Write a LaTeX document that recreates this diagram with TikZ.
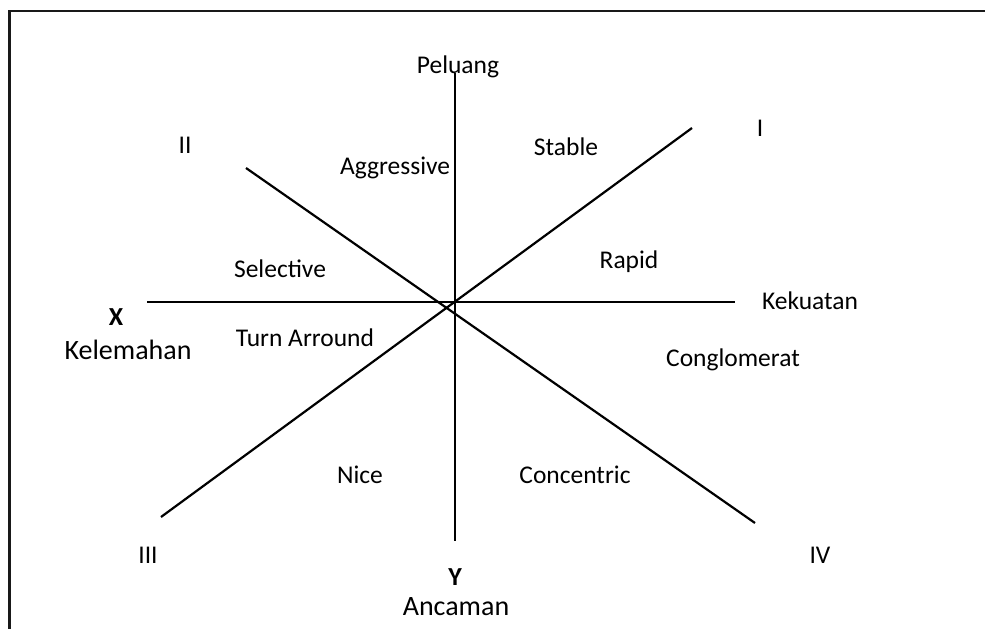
\documentclass[tikz,border=0pt]{standalone}
\usepackage{fontspec}
\setmainfont{Carlito}
\begin{document}
\begin{tikzpicture}[x=1pt,y=-1pt,
  axis/.style={line width=2.2pt,black},
  frameline/.style={line width=2.6pt,black!90},
  lbl/.style={font=\fontsize{25.5}{30}\selectfont,inner sep=0pt,anchor=center},
  big/.style={font=\fontsize{28}{33}\selectfont,inner sep=0pt,anchor=center},
  bigb/.style={font=\fontsize{26}{31}\selectfont\bfseries,inner sep=0pt,anchor=center}]
\useasboundingbox (0,0) rectangle (985,629);
% frame (top and left edges)
\coordinate (fTR) at (985,11);
\coordinate (fTL) at (9.5,11);
\coordinate (fBL) at (9.5,629);
\draw[frameline] (fTR) -- (fTL) -- (fBL);
% axes
\coordinate (top) at (455,73);
\coordinate (bot) at (455,541);
\coordinate (lft) at (147,302);
\coordinate (rgt) at (735,302);
\coordinate (dI) at (692,128);
\coordinate (dIII) at (161,517);
\coordinate (dII) at (246,168);
\coordinate (dIV) at (755,523);
\draw[axis] (top) -- (bot);
\draw[axis] (lft) -- (rgt);
\draw[axis] (dI) -- (dIII);
\draw[axis] (dII) -- (dIV);
% labels
\node[lbl] (peluang) at (458,67) {Peluang};
\node[lbl] (nII) at (185,145) {II};
\node[lbl] (nI) at (760,128) {I};
\node[lbl] (aggr) at (395,168) {Aggressive};
\node[lbl] (stable) at (566,147) {Stable};
\node[lbl] (select) at (280,269) {Selective};
\node[lbl] (rapid) at (629,262) {Rapid};
\node[lbl] (kekuatan) at (810,301) {Kekuatan};
\node[bigb] (X) at (116,317) {X};
\node[big] (kelem) at (128,350) {Kelemahan};
\node[lbl] (turn) at (305,338) {Turn Arround};
\node[lbl] (congl) at (733,360) {Conglomerat};
\node[lbl] (nice) at (360,475) {Nice};
\node[lbl] (conc) at (575,475) {Concentric};
\node[lbl] (nIII) at (148,555) {III};
\node[lbl] (nIV) at (820,555) {IV};
\node[bigb] (Y) at (455,577) {Y};
\node[big] (ancaman) at (456,607) {Ancaman};
\end{tikzpicture}
\end{document}
